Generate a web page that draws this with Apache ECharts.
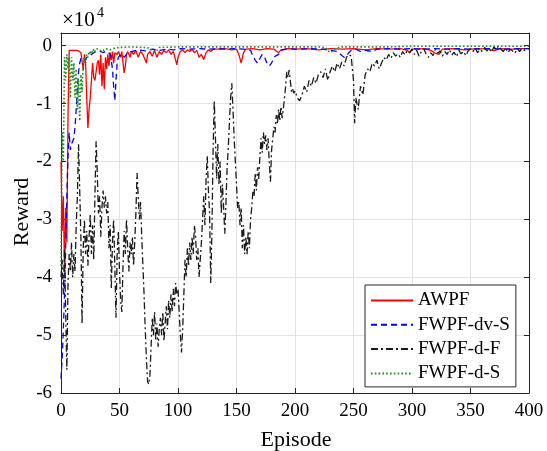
<!DOCTYPE html>
<html>
<head>
<meta charset="utf-8">
<script src="https://cdn.jsdelivr.net/npm/echarts@6/dist/echarts.min.js"></script>
<style>
html,body{margin:0;padding:0;background:#fff;}
#chart{width:547px;height:451px;}
</style>
</head>
<body>
<div id="chart"></div>
<script>
// Values in units of 10^4
const seriesNames = ['AWPF', 'FWPF-dv-S', 'FWPF-d-F', 'FWPF-d-S'];
const xTicks = [0, 50, 100, 150, 200, 250, 300, 350, 400];
const yTicks = [-6, -5, -4, -3, -2, -1, 0];

// AWPF: episodes 0..60 one per episode, then [episode, value]
const awpfDense = [
-2.0,-3.2,-2.6,-3.9,-2.8,-3.4,-1.2,-0.08,-0.07,-0.08,
-0.07,-0.08,-0.07,-0.08,-0.07,-0.09,-0.08,-0.12,-0.1,-0.42,
-0.15,-0.3,-0.9,-1.42,-1.1,-0.9,-0.6,-0.3,-0.55,-0.6,
-0.45,-0.3,-0.25,-0.5,-0.15,-0.7,-0.3,-0.75,-0.2,-0.4,
-0.15,-0.35,-0.12,-0.25,-0.1,-0.3,-0.12,-0.1,-0.15,-0.1,
-0.12,-0.2,-0.1,-0.3,-0.47,-0.35,-0.15,-0.1,-0.12,-0.2,
-0.1
];
const awpfSparse = [
[62,-0.15],[64,-0.08],[66,-0.2],[68,-0.1],[70,-0.15],[72,-0.25],[73,-0.3],[74,-0.15],[76,-0.1],[78,-0.18],
[80,-0.08],[82,-0.2],[84,-0.1],[86,-0.15],[88,-0.08],[90,-0.12],[92,-0.07],[94,-0.15],[96,-0.1],[98,-0.25],
[99,-0.33],[100,-0.2],[102,-0.1],[104,-0.07],[106,-0.12],[108,-0.07],[110,-0.1],[112,-0.06],[114,-0.12],[116,-0.08],
[118,-0.2],[120,-0.15],[122,-0.24],[124,-0.12],[126,-0.07],[128,-0.1],[130,-0.06],[134,-0.06],[140,-0.05],[146,-0.07],
[150,-0.06],[152,-0.15],[154,-0.3],[156,-0.12],[158,-0.06],[164,-0.05],[170,-0.07],[176,-0.05],[182,-0.06],[186,-0.12],
[188,-0.07],[194,-0.05],[200,-0.06],[210,-0.05],[220,-0.07],[230,-0.05],[240,-0.06],[250,-0.05],[260,-0.07],[270,-0.05],
[280,-0.06],[290,-0.05],[296,-0.08],[298,-0.12],[300,-0.06],[310,-0.05],[316,-0.08],[320,-0.13],[323,-0.15],[326,-0.06],
[335,-0.05],[345,-0.07],[355,-0.05],[365,-0.06],[370,-0.09],[375,-0.05],[385,-0.06],[395,-0.05],[400,-0.05]
];

// FWPF-dv-S
const dvsDense = [
-5.75,-5.4,-4.9,-4.3,-3.5,-2.6,-1.9,-1.5,-1.8,-1.7,
-1.65,-1.6,-1.4,-1.1,-0.75,-0.45,-0.3,-0.22,-0.25,-0.2,
-0.22,-0.25,-0.2,-0.22,-0.18,-0.15,-0.15,-0.12,-0.12,-0.1,
-0.1,-0.12,-0.1,-0.12,-0.1,-0.1,-0.12,-0.1,-0.1,-0.12,
-0.1,-0.12,-0.15,-0.25,-0.4,-0.7,-0.95,-0.6,-0.3,-0.2,
-0.18,-0.15,-0.18,-0.15,-0.2,-0.18,-0.15,-0.18,-0.12,-0.12,
-0.1
];
const dvsSparse = [
[66,-0.07],[72,-0.09],[78,-0.06],[84,-0.08],[90,-0.06],[96,-0.07],[102,-0.05],[110,-0.06],[118,-0.05],[126,-0.06],
[134,-0.05],[140,-0.06],[148,-0.05],[156,-0.06],[162,-0.08],[164,-0.18],[166,-0.25],[168,-0.3],[170,-0.22],[172,-0.15],
[174,-0.2],[176,-0.3],[178,-0.35],[180,-0.3],[182,-0.2],[184,-0.17],[186,-0.15],[188,-0.08],[194,-0.05],[204,-0.06],
[214,-0.05],[224,-0.06],[230,-0.08],[236,-0.1],[238,-0.13],[240,-0.17],[242,-0.2],[244,-0.18],[246,-0.12],[248,-0.08],
[252,-0.06],[256,-0.1],[260,-0.08],[266,-0.1],[270,-0.06],[280,-0.05],[290,-0.06],[300,-0.05],[310,-0.06],[320,-0.05],
[330,-0.06],[340,-0.05],[350,-0.06],[360,-0.05],[370,-0.05],[380,-0.06],[390,-0.05],[400,-0.05]
];

// FWPF-d-F
const dfDense = [
-4.0,-3.7,-4.3,-3.5,-4.6,-5.6,-4.1,-3.6,-3.9,-3.4,
-4.0,-3.6,-3.9,-3.1,-2.6,-1.7,-2.5,-3.3,-4.8,-3.5,
-3.0,-3.6,-3.2,-3.8,-3.3,-2.9,-3.6,-3.1,-3.7,-2.6,
-1.65,-2.2,-2.9,-2.6,-3.3,-2.8,-2.5,-2.8,-2.6,-2.9,
-2.7,-3.5,-3.1,-4.2,-3.4,-3.0,-3.8,-4.7,-3.6,-3.2,
-3.9,-4.4,-4.6,-3.8,-3.2,-3.6,-3.0,-3.5,-3.9,-3.4,
-3.6,-3.3,-3.8,-3.4,-2.9,-2.2,-2.6,-3.0,-2.7,-3.3,
-3.8,-4.3,-4.9,-5.4,-5.8,-5.85,-5.7,-5.2,-4.7,-5.0,
-4.6,-5.1,-4.8,-5.2,-4.9,-4.7,-5.0,-4.6,-5.1,-4.8,
-4.5,-4.9,-4.4,-4.7,-4.3,-4.6,-4.2,-4.5,-4.1,-4.3,
-4.2,-4.6,-5.0,-5.3,-4.9,-4.3,-3.7,-4.0,-3.5,-3.8,
-3.4,-3.7,-3.3,-3.6,-3.1,-3.3,-3.7,-3.5,-4.0,-3.7,
-3.4,-3.0,-2.6,-3.1,-2.3,-1.9,-2.5,-2.9,-4.1,-3.2,
-1.8,-0.95,-1.6,-2.3,-1.7,-2.4,-2.0,-2.9,-2.4,-2.8,
-3.25,-2.7,-2.1,-1.75,-1.3,-0.9,-0.65,-1.1,-1.6,-2.0,
-2.4,-2.8,-2.7,-3.1,-2.8,-3.5,-3.1,-3.6,-3.3,-3.6,
-3.2,-3.5,-3.0,-2.8,-2.5,-2.6,-2.2,-2.5,-2.1,-2.3,
-1.9,-1.6,-1.85,-1.5,-1.7,-1.55,-1.8,-1.6,-2.0,-2.35,
-1.8,-1.6,-1.4,-1.5,-1.2,-1.35,-1.1,-1.3,-1.05,-1.25,
-1.1,-0.9,-0.7,-0.45,-0.55,-0.42,-0.6,-0.8,-0.75,-0.82,
-0.78
];
const dfSparse = [
[202,-0.9],[204,-0.95],[206,-0.85],[208,-0.7],[210,-0.8],[212,-0.6],[214,-0.7],[216,-0.55],[218,-0.65],[220,-0.5],
[222,-0.45],[224,-0.55],[226,-0.4],[228,-0.6],[230,-0.45],[232,-0.35],[234,-0.45],[236,-0.3],[238,-0.4],[240,-0.28],
[242,-0.35],[244,-0.2],[246,-0.15],[248,-0.18],[250,-0.6],[251,-1.34],[252,-0.9],[254,-1.1],[256,-0.7],[258,-0.85],
[260,-0.5],[262,-0.4],[264,-0.45],[266,-0.3],[268,-0.35],[270,-0.25],[272,-0.4],[274,-0.3],[276,-0.2],[278,-0.25],
[280,-0.15],[282,-0.22],[284,-0.12],[286,-0.18],[288,-0.14],[290,-0.2],[292,-0.1],[294,-0.16],[296,-0.08],[298,-0.12],
[300,-0.06],[302,-0.15],[304,-0.08],[306,-0.18],[308,-0.1],[310,-0.05],[312,-0.14],[314,-0.2],[316,-0.12],[318,-0.17],
[320,-0.06],[322,-0.13],[324,-0.09],[326,-0.18],[328,-0.1],[330,-0.15],[332,-0.07],[334,-0.16],[336,-0.11],[338,-0.19],
[340,-0.08],[342,-0.14],[344,-0.1],[346,-0.17],[348,-0.09],[350,-0.05],[352,-0.1],[354,-0.04],[356,-0.12],[358,-0.06],
[360,-0.1],[362,-0.03],[364,-0.09],[366,-0.05],[368,-0.11],[370,-0.02],[372,-0.07],[374,0.0],[376,-0.06],[378,-0.1],
[380,-0.04],[382,-0.12],[384,-0.06],[386,-0.09],[388,-0.13],[390,-0.05],[392,-0.1],[394,-0.04],[396,-0.08],[398,-0.06],
[400,-0.05]
];

// FWPF-d-S
const dsDense = [
-3.8,-1.5,-2.0,-0.2,-0.6,-0.15,-0.4,-0.2,-0.9,-0.2,
-0.6,-0.3,-0.9,-0.4,-1.1,-0.6,-1.3,-0.5,-0.8,-0.3,
-0.2,-0.3,-0.15,-0.2,-0.1,-0.15,-0.08,-0.12,-0.06,-0.1,
-0.05
];
const dsSparse = [
[32,-0.06],[35,-0.1],[38,-0.05],[42,-0.07],[46,-0.04],[50,-0.03],[60,-0.02],[70,-0.03],[76,-0.04],[78,-0.09],
[80,-0.11],[82,-0.08],[84,-0.03],[100,-0.02],[120,-0.02],[140,-0.02],[160,-0.02],[180,-0.02],[200,-0.02],[220,-0.02],
[226,-0.03],[228,-0.09],[231,-0.11],[234,-0.05],[240,-0.02],[260,-0.02],[280,-0.02],[300,-0.01],[320,-0.01],[340,-0.01],
[360,-0.01],[380,-0.01],[400,-0.01]
];

function build(dense, sparse) {
  return dense.map((v, i) => [i, v]).concat(sparse);
}

const FONT = 'Liberation Serif';
const chart = echarts.init(document.getElementById('chart'), null, {renderer: 'canvas'});

const frame = {show: true, onZero: false, lineStyle: {color: '#262626', width: 1}};
const tick = {show: true, inside: true, length: 5, lineStyle: {color: '#262626', width: 1}};

chart.setOption({
  animation: false,
  backgroundColor: '#fff',
  grid: {left: 61, right: 18, top: 33, bottom: 58, containLabel: false},
  xAxis: [{
    type: 'value', min: 0, max: 400, interval: 50, position: 'bottom',
    axisLine: frame, axisTick: tick,
    axisLabel: {fontFamily: FONT, fontSize: 19, color: '#000', margin: 9,
      formatter: v => xTicks.includes(v) ? String(v) : ''},
    splitLine: {show: true, lineStyle: {color: '#e3e3e3', width: 1}}
  }, {
    type: 'value', min: 0, max: 400, interval: 50, position: 'top',
    axisLine: frame, axisTick: tick, axisLabel: {show: false}, splitLine: {show: false}
  }],
  yAxis: [{
    type: 'value', min: -6, max: 0.22, interval: 1, position: 'left',
    axisLine: frame, axisTick: tick,
    axisLabel: {fontFamily: FONT, fontSize: 19, color: '#000', margin: 9,
      formatter: v => yTicks.includes(v) ? String(v) : ''},
    splitLine: {show: true, lineStyle: {color: '#e3e3e3', width: 1}}
  }, {
    type: 'value', min: -6, max: 0.22, interval: 1, position: 'right',
    axisLine: frame, axisTick: tick, axisLabel: {show: false}, splitLine: {show: false}
  }],
  legend: {
    data: seriesNames, orient: 'vertical', left: 365, top: 285,
    itemWidth: 42, itemHeight: 20, itemGap: 5.3,
    padding: [6, 6, 4, 5],
    itemStyle: {opacity: 0, borderWidth: 0},
    borderColor: '#262626', borderWidth: 1, backgroundColor: '#fff',
    textStyle: {fontFamily: FONT, fontSize: 19, color: '#000'}
  },
  graphic: [
    {type: 'text', left: 62, top: 10, style: {text: '×10', font: '21px "Liberation Serif"', fill: '#000'}},
    {type: 'text', left: 97, top: 6, style: {text: '4', font: '14px "Liberation Serif"', fill: '#000'}},
    {type: 'text', x: 296, y: 440, style: {text: 'Episode', font: '22px "Liberation Serif"', fill: '#000', textAlign: 'center', textVerticalAlign: 'middle'}},
    {type: 'text', x: 22, y: 212, rotation: Math.PI / 2, style: {text: 'Reward', font: '22px "Liberation Serif"', fill: '#000', textAlign: 'center', textVerticalAlign: 'middle'}}
  ],
  series: [
    {name: seriesNames[0], type: 'line', data: build(awpfDense, awpfSparse), showSymbol: false, symbol: 'none',
      lineStyle: {color: '#ff0000', width: 1.3}, itemStyle: {color: '#ff0000'}},
    {name: seriesNames[1], type: 'line', data: build(dvsDense, dvsSparse), showSymbol: false, symbol: 'none',
      lineStyle: {color: '#0000ff', width: 1.3, type: [6, 4]}, itemStyle: {color: '#0000ff'}},
    {name: seriesNames[2], type: 'line', data: build(dfDense, dfSparse), showSymbol: false, symbol: 'none',
      lineStyle: {color: '#1a1a1a', width: 1.3, type: [7, 3, 2, 3]}, itemStyle: {color: '#1a1a1a'}},
    {name: seriesNames[3], type: 'line', data: build(dsDense, dsSparse), showSymbol: false, symbol: 'none',
      lineStyle: {color: '#228b22', width: 1.6, type: [1.6, 2.2]}, itemStyle: {color: '#228b22'}}
  ]
});
</script>
</body>
</html>
